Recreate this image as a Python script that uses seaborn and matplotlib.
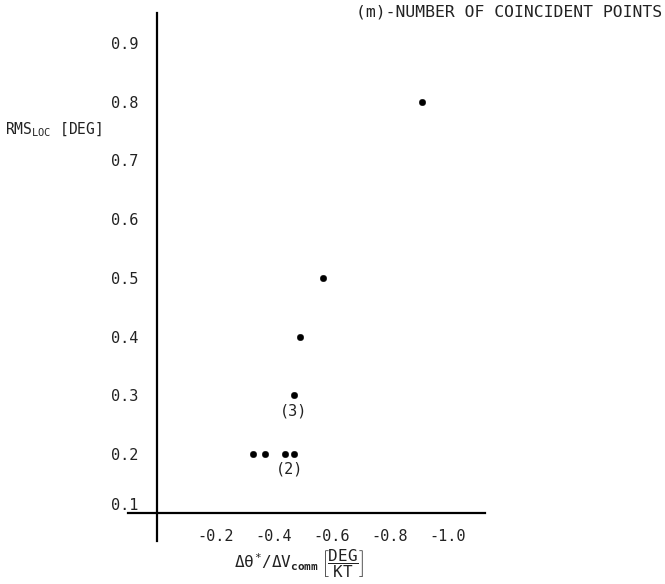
import matplotlib
matplotlib.use("Agg")
import matplotlib.pyplot as plt
import matplotlib.transforms as mtransforms
import seaborn as sns
import pandas as pd

# Data
x_vals = [-0.33, -0.37, -0.44, -0.47, -0.47, -0.49, -0.57, -0.91]
y_vals = [0.2, 0.2, 0.2, 0.2, 0.3, 0.4, 0.5, 0.8]
x_ticks = [-0.2, -0.4, -0.6, -0.8, -1.0]
x_tick_labels = ["-0.2", "-0.4", "-0.6", "-0.8", "-1.0"]
y_ticks = [0.1, 0.2, 0.3, 0.4, 0.5, 0.6, 0.7, 0.8, 0.9]
y_tick_labels = ["0.1", "0.2", "0.3", "0.4", "0.5", "0.6", "0.7", "0.8", "0.9"]
annot_text = ["(3)", "(2)"]
annot_x = [-0.47, -0.455]
annot_y = [0.3, 0.2]

sns.set_theme(style="white")
plt.rcParams["font.family"] = ["DejaVu Sans Mono", "DejaVu Sans"]
plt.rcParams["mathtext.fontset"] = "custom"
plt.rcParams["mathtext.rm"] = "DejaVu Sans Mono"
plt.rcParams["mathtext.it"] = "DejaVu Sans Mono"
plt.rcParams["mathtext.bf"] = "DejaVu Sans Mono:bold"

df = pd.DataFrame({"x": x_vals, "y": y_vals})

fig = plt.figure(figsize=(6.65, 5.84), dpi=100)
ax = fig.add_axes([0.1925, 0.0736, 0.729 - 0.1925, 0.977 - 0.0736])

sns.scatterplot(data=df, x="x", y="y", ax=ax, color="black", s=22,
                edgecolor="black", linewidth=0.3, zorder=3)

ax.set_xlim(0.1, -1.127)
ax.set_ylim(0.052, 0.95)

for side in ["top", "right"]:
    ax.spines[side].set_visible(False)
ax.spines["left"].set_position(("data", 0.0))
ax.spines["bottom"].set_position(("data", 0.1))
for side in ["left", "bottom"]:
    ax.spines[side].set_color("black")
    ax.spines[side].set_linewidth(1.6)

ax.set_xticks(x_ticks)
ax.set_xticklabels(x_tick_labels)
ax.set_yticks(y_ticks)
ax.set_yticklabels(y_tick_labels)
ax.tick_params(axis="both", direction="inout", length=5, width=1.2,
               colors="black", labelsize=11, labelcolor="#222222")
ax.tick_params(axis="y", pad=11)
ax.tick_params(axis="x", pad=9)

# the 0.1 label sits slightly above the x axis line in the reference
lbl = ax.get_yticklabels()[0]
lbl.set_transform(lbl.get_transform() +
                  mtransforms.ScaledTranslation(0, 9 / 100, fig.dpi_scale_trans))

ax.set_xlabel("")
ax.set_ylabel("")

for t, xa, ya in zip(annot_text, annot_x, annot_y):
    ax.annotate(t, xy=(xa, ya), xytext=(0, -11), textcoords="offset points",
                ha="center", va="center", fontsize=11, color="#222222")

fig.text(0.995, 0.979, "(m)-NUMBER OF COINCIDENT POINTS", ha="right",
         va="center", fontsize=11.8, color="#222222")
fig.text(0.008, 0.778, r"RMS$_{\mathrm{LOC}}$ [DEG]", ha="left",
         va="center", fontsize=10.5, color="#222222")
fig.text(0.45, 0.035,
         r"$\Delta\theta^{*}/\Delta V_{\mathbf{comm}}\ \left[\dfrac{\mathrm{DEG}}{\mathrm{KT}}\right]$",
         ha="center", va="center", fontsize=11.5, color="#222222")

fig.savefig("out.png", dpi=100, facecolor="white")
